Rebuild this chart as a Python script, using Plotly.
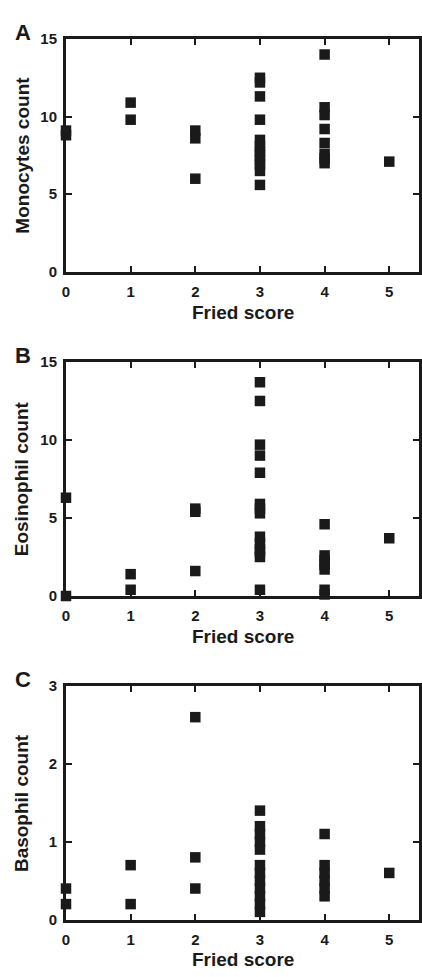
import plotly.graph_objects as go

# Fried frailty score groups and blood counts per patient
fried_mono = [0, 0, 1, 1, 2, 2, 2,
              3, 3, 3, 3, 3, 3, 3, 3, 3, 3, 3, 3,
              4, 4, 4, 4, 4, 4, 4, 4, 5]
monocytes = [9.1, 8.8, 10.9, 9.8, 9.1, 8.6, 6.0,
             12.5, 12.2, 11.3, 9.8, 8.5, 8.1, 7.8, 7.5, 7.2, 6.9, 6.5, 5.6,
             14.0, 10.6, 10.1, 9.2, 8.3, 7.6, 7.3, 7.0, 7.1]

fried_eos = [0, 0, 1, 1, 2, 2, 2,
             3, 3, 3, 3, 3, 3, 3, 3, 3, 3, 3, 3, 3, 3,
             4, 4, 4, 4, 4, 4, 4, 5]
eosinophils = [6.3, 0.0, 1.4, 0.4, 5.6, 5.4, 1.6,
               13.7, 12.5, 9.7, 9.0, 7.9, 5.9, 5.6, 5.3, 3.8, 3.4, 3.0, 2.8, 2.5, 0.4,
               4.6, 2.6, 2.3, 2.0, 1.7, 0.4, 0.1, 3.7]

fried_baso = [0, 0, 1, 1, 2, 2, 2,
              3, 3, 3, 3, 3, 3, 3, 3, 3, 3, 3, 3,
              4, 4, 4, 4, 4, 4, 5]
basophils = [0.4, 0.2, 0.7, 0.2, 2.6, 0.8, 0.4,
             1.4, 1.2, 1.1, 1.0, 0.9, 0.7, 0.6, 0.5, 0.4, 0.3, 0.2, 0.1,
             1.1, 0.7, 0.6, 0.5, 0.4, 0.3, 0.6]

x_ticks = [0, 1, 2, 3, 4, 5]
y_ticks_ab = [0, 5, 10, 15]
y_ticks_c = [0, 1, 2, 3]

panel_letters = ["A", "B", "C"]
y_titles = ["Monocytes count", "Eosinophil count", "Basophil count"]
x_title = "Fried score"

W, H = 422, 977
LEFT, RIGHT = 66, 1
INK = "#1a1a1a"
FONT = "Liberation Sans, Arial, sans-serif"

# plot areas in pixels (top, bottom)
areas = [(30.5, 267.5), (359.2, 597.4), (689.0, 926.8)]
y_ranges = [[0, 15], [0, 15], [0, 3]]
y_tickvals = [y_ticks_ab, y_ticks_ab, y_ticks_c]
series = [(fried_mono, monocytes), (fried_eos, eosinophils), (fried_baso, basophils)]

def py(px):
    return 1 - px / H

def pxr(px):
    return (px - LEFT) / (W - LEFT - RIGHT)

fig = go.Figure()
layout = dict(
    width=W, height=H,
    margin=dict(l=LEFT, r=RIGHT, t=0, b=0),
    paper_bgcolor="white", plot_bgcolor="white",
    showlegend=False,
    font=dict(family=FONT, color=INK),
)

tickfont = dict(family=FONT, size=15, color=INK, weight="bold")
axis_common = dict(
    ticks="inside", ticklen=6, tickwidth=2, tickcolor=INK,
    showline=True, linewidth=3, linecolor=INK, mirror="ticks",
    showgrid=False, zeroline=False, tickfont=tickfont,
)
annotations = []

for i, ((top, bot), yr, tv, (xs, ys)) in enumerate(zip(areas, y_ranges, y_tickvals, series)):
    n = i + 1
    xa = "xaxis" if n == 1 else f"xaxis{n}"
    ya = "yaxis" if n == 1 else f"yaxis{n}"
    xref = "x" if n == 1 else f"x{n}"
    yref = "y" if n == 1 else f"y{n}"
    layout[xa] = dict(domain=[0, 1], anchor=yref, range=[0, 5.46],
                      tickvals=x_ticks, ticklabelstandoff=4, **axis_common)
    layout[ya] = dict(domain=[py(bot), py(top)], anchor=xref, range=yr,
                      tickvals=tv, ticklabelstandoff=3, **axis_common)
    fig.add_trace(go.Scatter(
        x=xs, y=ys, mode="markers", xaxis=xref, yaxis=yref,
        marker=dict(symbol="square", size=10.5, color=INK, line=dict(width=0)),
        cliponaxis=False, hoverinfo="x+y",
    ))
    # axis titles and panel letter
    annotations.append(dict(
        text=x_title, xref="paper", yref="paper", x=pxr(244), y=py(bot + 41),
        xanchor="center", yanchor="middle", showarrow=False,
        font=dict(family=FONT, size=19, color=INK, weight="bold"),
    ))
    annotations.append(dict(
        text=y_titles[i], xref="paper", yref="paper", x=pxr(22), y=py((top + bot) / 2),
        xanchor="center", yanchor="middle", showarrow=False, textangle=-90,
        font=dict(family=FONT, size=19, color=INK, weight="bold"),
    ))
    annotations.append(dict(
        text=panel_letters[i], xref="paper", yref="paper", x=pxr(23), y=py(top - 7),
        xanchor="center", yanchor="middle", showarrow=False,
        font=dict(family=FONT, size=22, color=INK, weight="bold"),
    ))

layout["annotations"] = annotations
fig.update_layout(**layout)
fig.write_html("out.html")
